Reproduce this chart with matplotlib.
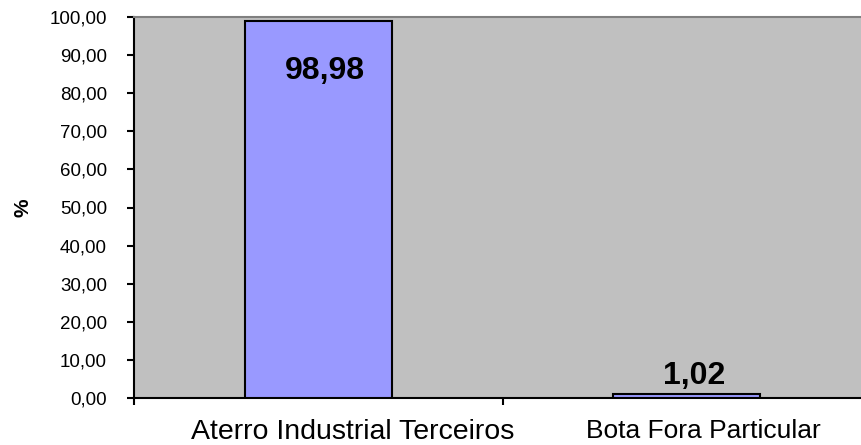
import numpy as np
import matplotlib.pyplot as plt
import matplotlib.transforms as mtrans
from matplotlib.ticker import FuncFormatter

plt.rcParams['font.family'] = ['Liberation Sans', 'DejaVu Sans']

categories = ['Aterro Industrial Terceiros', 'Bota Fora Particular']
values = [98.98, 1.02]
y_ticks = np.arange(0, 101, 10)

fig = plt.figure(figsize=(8.62, 4.45), dpi=100)
# plot area runs a bit past the right edge, as in the original
ax = fig.add_axes([134 / 862, 47 / 445, 737 / 862, 381 / 445])
ax.set_facecolor('#C0C0C0')

x = np.arange(len(categories))
bars = ax.bar(x, values, width=0.4, color='#9999FF', edgecolor='black', linewidth=1.5, zorder=3)

ax.set_xlim(-0.5, len(categories) - 0.5)
ax.set_ylim(0, 100)
ax.set_yticks(y_ticks)
ax.yaxis.set_major_formatter(FuncFormatter(lambda v, p: f'{v:.2f}'.replace('.', ',')))
ax.tick_params(axis='y', labelsize=13.5, length=5, width=1.5, pad=14.5, direction='out')

ax.set_xticks(x)
ax.set_xticklabels(categories)
ax.tick_params(axis='x', length=0, pad=15)
ax.set_xticks(np.arange(-0.5, len(categories)), minor=True)
ax.tick_params(axis='x', which='minor', length=5, width=1.5, direction='out')

# category labels sit a little right of the bar centres in the original
for lab, size, dx in zip(ax.get_xticklabels(), [20.5, 19], [25, 12]):
    lab.set_fontsize(size)
    lab.set_transform(lab.get_transform() + mtrans.ScaledTranslation(dx / 72, 0, fig.dpi_scale_trans))

ax.set_ylabel('%', fontsize=15, fontweight='bold', labelpad=12)

for sp in ['left', 'bottom']:
    ax.spines[sp].set_linewidth(1.5)
    ax.spines[sp].set_color('black')
ax.spines['top'].set_color('#808080')
ax.spines['top'].set_linewidth(1.5)
ax.spines['right'].set_visible(False)

# value labels: inside the tall bar, above the short one
for b, v in zip(bars, values):
    off = -36 if v > 90 else 13
    ax.annotate(f'{v:.2f}'.replace('.', ','), (b.get_x() + b.get_width() / 2, v),
                xytext=(5, off), textcoords='offset points', ha='center', va='center',
                fontsize=23, fontweight='bold', zorder=4)

fig.savefig('out.png', dpi=100)
